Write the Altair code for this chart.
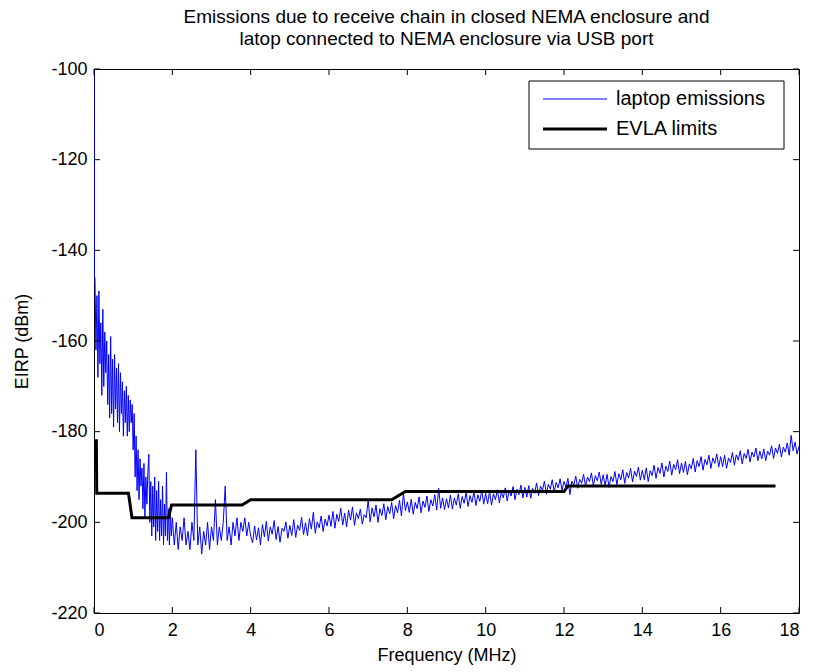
import altair as alt
import numpy as np
import pandas as pd

TITLE = ["Emissions due to receive chain in closed NEMA enclosure and",
         "latop connected to NEMA enclosure via USB port"]
X_TITLE = "Frequency (MHz)"
Y_TITLE = "EIRP (dBm)"
SERIES = ["laptop emissions", "EVLA limits"]
X_TICKS = [0, 2, 4, 6, 8, 10, 12, 14, 16, 18]
Y_TICKS = [-220, -200, -180, -160, -140, -120, -100]

# laptop emissions: start spike at 0 MHz
head_freq = [0.0, 0.012]
head_eirp = [-100, -146]

# 0.025 .. 2.0 MHz, step 0.025
eirp_fine = [
    -146, -162, -150, -168, -149, -165, -156, -172, -153, -170,
    -158, -167, -160, -174, -163, -177, -159, -176, -164, -179,
    -163, -175, -166, -178, -165, -180, -167, -176, -169, -181,
    -171, -178, -170, -181, -172, -180, -173, -178, -174, -184,
    -176, -190, -181, -193, -184, -195, -186, -192, -188, -197,
    -187, -199, -190, -196, -189, -185, -200, -191, -203, -192,
    -201, -190, -204, -193, -202, -191, -204, -195, -203, -192,
    -205, -196, -203, -189, -204, -197, -205, -198, -203, -199,
]

# 2.05 .. 18.0 MHz, step 0.05
eirp_coarse = [
    -205, -200, -206, -201, -204, -199, -205, -202, -206, -200,
    -204, -184, -205, -201, -207, -202, -205, -200, -206, -201,
    -204, -195, -205, -201, -204, -200, -192, -204, -201, -205,
    -200, -203, -199, -204, -200, -202, -199, -203, -200, -203,
    -204.5, -200.8, -203.9, -201.2, -205.0, -200.5, -203.2, -199.8, -204.1, -201.0,
    -202.6, -199.6, -203.8, -200.9, -204.4, -201.3, -202.0, -199.9, -203.5, -200.7,
    -202.9, -199.4, -203.3, -200.6, -201.8, -198.9, -202.7, -200.1, -203.0, -199.2,
    -201.5, -197.8, -202.4, -199.9, -201.2, -198.6, -202.0, -199.3, -200.8, -198.4,
    -200.9, -197.6, -201.3, -198.2, -199.8, -196.9, -200.6, -198.0, -201.0, -197.3,
    -199.5, -196.6, -200.7, -197.9, -199.2, -197.1, -200.4, -198.3, -199.0, -195.0,
    -199.9, -196.8, -198.8, -196.2, -200.0, -197.0, -198.5, -195.9, -199.4, -196.5,
    -198.1, -195.6, -199.2, -196.3, -197.9, -195.1, -198.6, -193.6, -197.4, -195.5,
    -197.8, -194.9, -198.2, -195.6, -197.0, -194.4, -197.9, -195.3, -196.7, -194.2,
    -197.6, -195.0, -196.4, -193.9, -197.3, -192.5, -196.9, -194.6, -197.2, -194.8,
    -196.8, -194.0, -197.1, -194.6, -196.2, -193.7, -196.9, -194.3, -195.8, -193.4,
    -196.5, -194.1, -195.6, -193.2, -196.3, -193.9, -195.4, -193.0, -196.0, -193.6,
    -195.9, -193.1, -196.2, -193.7, -195.0, -192.8, -195.7, -193.3, -194.6, -192.4,
    -195.3, -193.0, -194.2, -192.1, -195.0, -192.7, -193.9, -191.8, -194.6, -192.3,
    -194.4, -191.9, -194.7, -192.5, -193.6, -191.3, -194.1, -192.0, -193.0, -190.9,
    -193.8, -191.6, -192.7, -190.6, -193.3, -191.2, -192.4, -190.4, -193.0, -191.0,
    -192.2, -190.3, -193.9, -190.9, -191.8, -189.8, -192.5, -190.5, -191.4, -189.4,
    -192.1, -190.0, -191.0, -189.1, -191.9, -189.7, -190.8, -188.9, -191.6, -189.5,
    -191.9, -189.4, -192.3, -189.9, -191.0, -188.8, -191.7, -189.3, -190.6, -188.4,
    -191.4, -189.0, -190.2, -188.1, -191.1, -188.7, -189.9, -187.8, -190.7, -188.5,
    -190.6, -188.0, -191.0, -188.6, -189.7, -187.4, -190.3, -187.9, -189.2, -186.9,
    -190.0, -187.6, -188.8, -186.5, -189.6, -187.2, -188.4, -186.2, -189.3, -186.9,
    -189.0, -186.6, -189.5, -187.1, -188.2, -185.9, -188.9, -186.4, -187.7, -185.5,
    -188.5, -186.1, -187.3, -185.2, -188.1, -185.8, -187.0, -184.9, -187.8, -185.5,
    -187.7, -185.2, -188.1, -185.8, -186.8, -184.6, -187.4, -185.1, -186.3, -184.2,
    -187.1, -184.8, -185.9, -183.9, -186.7, -184.5, -185.6, -183.6, -186.4, -184.3,
    -186.0, -183.8, -186.4, -184.3, -185.2, -183.1, -185.9, -183.6, -184.8, -182.8,
    -185.6, -183.4, -184.5, -182.5, -185.2, -180.8, -184.2, -182.3, -184.9, -183.2,
]

# EVLA limits (step-like curve)
limit_freq = [0.0, 0.06, 0.07, 0.88, 0.97, 1.90, 1.98, 3.78, 4.0, 7.6, 7.95, 12.0, 12.1, 17.4]
limit_eirp = [-182, -182, -193.6, -193.6, -199, -199, -196.2, -196.2, -195, -195, -193.2, -193.2, -192, -192]

freq_fine = np.round(np.linspace(0.025, 2.0, len(eirp_fine)), 3)
freq_coarse = np.round(np.linspace(2.05, 18.0, len(eirp_coarse)), 3)

laptop = pd.DataFrame({
    "f": list(head_freq) + list(freq_fine) + list(freq_coarse),
    "p": list(head_eirp) + eirp_fine + eirp_coarse,
})
laptop["o"] = range(len(laptop))
limits = pd.DataFrame({"f": limit_freq, "p": limit_eirp})
limits["o"] = range(len(limits))

W, H = 705, 544
FONT = "Liberation Sans"
FS = 18
BLUE = "#0000ff"

xs = alt.Scale(domain=[0, 18], nice=False, zero=False)
ys = alt.Scale(domain=[-220, -100], nice=False, zero=False)
hyphen = "datum.value < 0 ? '-' + abs(datum.value) : '' + datum.value"

x_enc = alt.X("f:Q", scale=xs, title=X_TITLE,
              axis=alt.Axis(values=X_TICKS, ticks=False, domain=False, grid=False,
                            labelPadding=8, labelFontSize=FS, labelFont=FONT,
                            titleFontSize=FS, titleFont=FONT, titleFontWeight="normal",
                            titleY=42, titleBaseline="middle", labelColor="black", titleColor="black"))
y_enc = alt.Y("p:Q", scale=ys, title=Y_TITLE,
              axis=alt.Axis(values=Y_TICKS, ticks=False, domain=False, grid=False,
                            labelPadding=7, labelFontSize=FS, labelFont=FONT, labelExpr=hyphen,
                            titleFontSize=FS, titleFont=FONT, titleFontWeight="normal",
                            titleX=-72, titleY=H / 2, titleAlign="center", titleBaseline="middle",
                            labelColor="black", titleColor="black"))

laptop_line = alt.Chart(laptop).mark_line(clip=True, color=BLUE, strokeWidth=1).encode(
    x=x_enc, y=y_enc, order="o:Q")
limit_line = alt.Chart(limits).mark_line(clip=True, color="black", strokeWidth=3).encode(
    x=alt.X("f:Q", scale=xs), y=alt.Y("p:Q", scale=ys), order="o:Q")

xt = pd.DataFrame({"t": X_TICKS})
yt = pd.DataFrame({"t": Y_TICKS})
tick_style = dict(color="black", strokeWidth=1)
xb = alt.Chart(xt).mark_rule(**tick_style).encode(x=alt.X("t:Q", scale=xs), y=alt.value(H), y2=alt.value(H - 6))
xtop = alt.Chart(xt).mark_rule(**tick_style).encode(x=alt.X("t:Q", scale=xs), y=alt.value(0), y2=alt.value(6))
yl = alt.Chart(yt).mark_rule(**tick_style).encode(y=alt.Y("t:Q", scale=ys), x=alt.value(0), x2=alt.value(6))
yr = alt.Chart(yt).mark_rule(**tick_style).encode(y=alt.Y("t:Q", scale=ys), x=alt.value(W), x2=alt.value(W - 6))

# legend box drawn in pixel space of the plot area
one = pd.DataFrame({"k": [0]})
LEG_FS = 20
leg_box = alt.Chart(one).mark_rect(fill="white", stroke="black", strokeWidth=1).encode(
    x=alt.value(435), x2=alt.value(690), y=alt.value(12), y2=alt.value(80))
leg_rule1 = alt.Chart(one).mark_rule(color=BLUE, strokeWidth=1).encode(
    x=alt.value(449), x2=alt.value(513), y=alt.value(30))
leg_rule2 = alt.Chart(one).mark_rule(color="black", strokeWidth=3).encode(
    x=alt.value(449), x2=alt.value(513), y=alt.value(60))
leg_t1 = alt.Chart(pd.DataFrame({"s": [SERIES[0]]})).mark_text(
    align="left", baseline="middle", font=FONT, fontSize=LEG_FS, color="black").encode(
    x=alt.value(522), y=alt.value(30), text="s:N")
leg_t2 = alt.Chart(pd.DataFrame({"s": [SERIES[1]]})).mark_text(
    align="left", baseline="middle", font=FONT, fontSize=LEG_FS, color="black").encode(
    x=alt.value(522), y=alt.value(60), text="s:N")

chart = alt.layer(laptop_line, limit_line, xb, xtop, yl, yr,
                  leg_box, leg_rule1, leg_rule2, leg_t1, leg_t2).properties(
    width=W, height=H,
    title=alt.Title(TITLE, font=FONT, fontSize=19, fontWeight="normal", color="black",
                    anchor="middle", offset=11, lineHeight=22),
    autosize=alt.AutoSizeParams(type="none"),
    padding={"left": 94, "top": 69, "right": 15, "bottom": 59},
    background="white",
).configure_view(stroke="black", strokeWidth=1)

chart.save("out.html", embed_options={"renderer": "svg", "actions": False})
